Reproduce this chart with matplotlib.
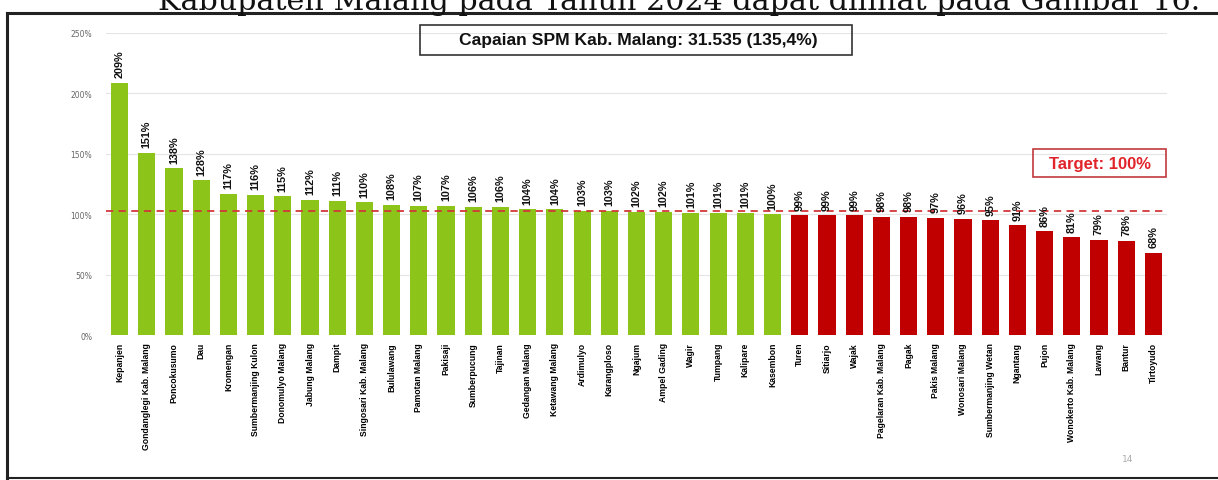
import matplotlib
matplotlib.use("Agg")
import matplotlib.pyplot as plt
from matplotlib.patches import Rectangle

categories = [
    "Kepanjen", "Gondanglegi Kab. Malang", "Poncokusumo", "Dau", "Kromengan",
    "Sumbermanjing Kulon", "Donomulyo Malang", "Jabung Malang", "Dampit",
    "Singosari Kab. Malang", "Bululawang", "Pamotan Malang", "Pakisaji",
    "Sumberpucung", "Tajinan", "Gedangan Malang", "Ketawang Malang", "Ardimulyo",
    "Karangploso", "Ngajum", "Ampel Gading", "Wagir", "Tumpang", "Kalipare",
    "Kasembon", "Turen", "Sitiarjo", "Wajak", "Pagelaran Kab. Malang", "Pagak",
    "Pakis Malang", "Wonosari Malang", "Sumbermanjing Wetan", "Ngantang", "Pujon",
    "Wonokerto Kab. Malang", "Lawang", "Bantur", "Tirtoyudo",
]
values = [
    209, 151, 138, 128, 117, 116, 115, 112, 111, 110, 108, 107, 107, 106, 106,
    104, 104, 103, 103, 102, 102, 101, 101, 101, 100,
    99, 99, 99, 98, 98, 97, 96, 95, 91, 86, 81, 79, 78, 68,
]
target_line = 102.5
yticks = [0, 50, 100, 150, 200, 250]
title_text = "Capaian SPM Kab. Malang: 31.535 (135,4%)"
target_text = "Target: 100%"
page_caption = "Kabupaten Malang pada Tahun 2024 dapat dilihat pada Gambar 16."

GREEN = "#8CC41A"
RED = "#C00000"

W, H = 1218, 481
fig = plt.figure(figsize=(W / 100, H / 100), dpi=100)
fig.patch.set_facecolor("white")

def fx(px):
    return px / W

def fy(py):
    return 1 - py / H

# page text (cut off at top, as in the scanned page)
fig.text(fx(679), fy(10), page_caption, family="DejaVu Serif", fontsize=21.7,
         ha="center", va="baseline", color="#111111")

# frame of figure in the document
fig.add_artist(plt.Line2D([fx(7), fx(1218)], [fy(14), fy(14)], color="#222222", lw=2.2))
fig.add_artist(plt.Line2D([fx(7), fx(7)], [fy(14), fy(479)], color="#222222", lw=2.2))
fig.add_artist(plt.Line2D([fx(7), fx(1218)], [fy(479), fy(479)], color="#222222", lw=1.5))

left, right = 106, 1167
top, bottom = 34, 336
ax = fig.add_axes([fx(left), fy(bottom), fx(right) - fx(left), fy(top) - fy(bottom)])

x = list(range(len(categories)))
colors = [GREEN if v >= 100 else RED for v in values]
ax.bar(x, values, width=0.63, color=colors, zorder=2)

ax.set_xlim(-0.5, len(categories) - 0.5)
ax.set_ylim(0, 250)
ax.set_yticks(yticks)
ax.set_yticklabels([f"{t}%" for t in yticks], fontsize=5.5, color="#666666")
ax.tick_params(axis="y", length=0, pad=10)
ax.tick_params(axis="x", length=0, pad=5)
ax.set_xticks(x)
ax.set_xticklabels(categories, rotation=90, fontsize=6.2, fontweight="bold",
                   family="Liberation Sans", va="top")
for s in ax.spines.values():
    s.set_visible(False)
ax.grid(axis="y", color="#e4e4e4", lw=0.8, zorder=0)
ax.set_axisbelow(True)

ax.axhline(target_line, color="#D2383A", lw=1.3, ls=(0, (4, 3)), zorder=3)

for xi, v in zip(x, values):
    ax.annotate(f"{v}%", (xi, v), xytext=(0, 4), textcoords="offset points",
                rotation=90, ha="center", va="bottom", fontsize=7.8,
                fontweight="bold", family="Liberation Sans", color="#111111")

# header box
fig.add_artist(Rectangle((fx(420), fy(56)), fx(852) - fx(420), fy(26) - fy(56),
                         fill=False, edgecolor="#333333", lw=1.2))
fig.text(fx(638), fy(41), title_text, ha="center", va="center", fontsize=12.6,
         fontweight="bold", family="Liberation Sans", color="#111111")

# target box
fig.add_artist(Rectangle((fx(1033), fy(178)), fx(1166) - fx(1033), fy(150) - fy(178),
                         fill=False, edgecolor="#C0393B", lw=1.2))
fig.text(fx(1100), fy(164), target_text, ha="center", va="center", fontsize=12,
         fontweight="bold", family="Liberation Sans", color="#E0242A")

# page number
fig.text(fx(1128), fy(460), "14", ha="center", va="center", fontsize=6.5, color="#aaaaaa")

fig.savefig("out.png", dpi=100)
